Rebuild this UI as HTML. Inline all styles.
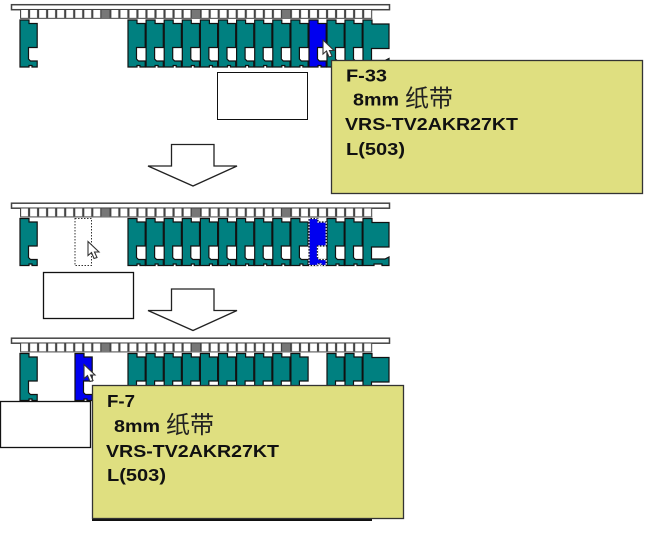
<!DOCTYPE html>
<html>
<head>
<meta charset="utf-8">
<style>
html,body{margin:0;padding:0;background:#fff;width:657px;height:538px;overflow:hidden}
svg{display:block}
.t{font-family:"Liberation Sans","Noto Sans CJK SC",sans-serif;font-size:17.5px;font-weight:bold;fill:#111}
.c{font-family:"Noto Sans CJK SC","WenQuanYi Zen Hei",sans-serif;font-size:24px;font-weight:400;fill:#222}
</style>
</head>
<body>
<svg width="657" height="538" viewBox="0 0 657 538" xmlns="http://www.w3.org/2000/svg">
<defs>
<pattern id="cell" x="20" y="0" width="9.03" height="40" patternUnits="userSpaceOnUse">
<rect x="0" y="0" width="9.03" height="40" fill="#444"/>
<rect x="1.1" y="0" width="6.9" height="40" fill="#fff"/>
</pattern>
<path id="fshape" d="M0 0H9V3.500H17.200V27.500H8.500V39L10.500 41H17.200V47H12V45.500H9V47H0Z"/>
<path id="wshape" d="M0 0H9V4H26V28.500H8.500V40.500H22L26 38.500V47H19V45.500H11V47H0Z"/>
<g id="f"><use href="#fshape" fill="#008080" stroke="#111" stroke-width="1.200"/></g>
<g id="b"><use href="#fshape" fill="#0000f0" stroke="#111" stroke-width="1.200"/></g>
<g id="w"><use href="#wshape" fill="#008080" stroke="#111" stroke-width="1.200"/></g>
<g id="rail">
<rect x="11.500" y="4.700" width="378" height="5" fill="#fff" stroke="#444" stroke-width="1.500"/>
<rect x="20" y="10" width="352.200" height="8.600" fill="url(#cell)"/>
<rect x="20" y="17.800" width="352.200" height="1.200" fill="#666"/>
<rect x="101.500" y="10" width="8" height="8.600" fill="#777"/>
<rect x="191.800" y="10" width="8" height="8.600" fill="#777"/>
<rect x="282.100" y="10" width="8" height="8.600" fill="#777"/>
</g>
<g id="dense">
<use href="#f" x="128" y="20"/><use href="#f" x="146.100" y="20"/><use href="#f" x="164.200" y="20"/>
<use href="#f" x="182.300" y="20"/><use href="#f" x="200.400" y="20"/><use href="#f" x="218.500" y="20"/>
<use href="#f" x="236.600" y="20"/><use href="#f" x="254.700" y="20"/><use href="#f" x="272.800" y="20"/>
<use href="#f" x="290.900" y="20"/>
<use href="#f" x="327" y="20"/><use href="#f" x="345" y="20"/><use href="#w" x="363" y="20"/>
</g>
<path id="arrow" d="M171.500 144.500H214V166H237L193 186L148 166H171.500Z" fill="#fff" stroke="#222" stroke-width="1.300"/>
<path id="cur" d="M0 0V14L3.500 11L6 17L9 16L6.500 10.500H11Z" fill="#fff" stroke="#333" stroke-width="1.100"/>
</defs>

<!-- strip 1 -->
<use href="#rail"/>
<use href="#f" x="20" y="20"/>
<use href="#dense"/>
<use href="#b" x="309" y="20"/>
<use href="#cur" x="323" y="40"/>
<rect x="217.500" y="72.500" width="90" height="47" fill="#fff" stroke="#111"/>
<use href="#arrow"/>

<!-- tooltip 1 -->
<rect x="331.500" y="60.500" width="311" height="133" fill="#dfdf80" stroke="#333" stroke-width="1.300"/>
<text class="t" x="346" y="81.500" textLength="41" lengthAdjust="spacingAndGlyphs">F-33</text>
<text class="t" x="353" y="105.500" textLength="46" lengthAdjust="spacingAndGlyphs">8mm</text>
<text class="c" x="405" y="106.500">纸带</text>
<text class="t" x="345" y="130" textLength="173" lengthAdjust="spacingAndGlyphs">VRS-TV2AKR27KT</text>
<text class="t" x="346" y="155" textLength="59" lengthAdjust="spacingAndGlyphs">L(503)</text>

<!-- strip 2 -->
<g transform="translate(0,198.500)">
<use href="#rail"/>
<use href="#f" x="20" y="20"/>
<use href="#dense"/>
<use href="#b" x="309" y="20"/>
<use href="#fshape" x="309" y="20" fill="none" stroke="#fff" stroke-width="1.300" stroke-dasharray="1.500 1.500"/>
<rect x="75" y="20" width="16.500" height="47" fill="#fff" stroke="#333" stroke-width="1" stroke-dasharray="1.500 1.500"/>
<use href="#cur" x="88" y="43"/>
</g>
<rect x="43.500" y="272.500" width="90" height="46" fill="#fff" stroke="#111" stroke-width="1.300"/>
<use href="#arrow" y="144.500"/>

<!-- strip 3 -->
<g transform="translate(0,333.500)">
<use href="#rail"/>
<use href="#f" x="20" y="20"/>
<use href="#b" x="75" y="20"/>
<use href="#dense"/>
<use href="#cur" x="84" y="31"/>
</g>
<rect x="0.500" y="401.500" width="90" height="46" fill="#fff" stroke="#111" stroke-width="1.300"/>

<!-- tooltip 2 -->
<rect x="92" y="519" width="280" height="2" fill="#111"/>
<rect x="92.500" y="385.500" width="311" height="133" fill="#dfdf80" stroke="#333" stroke-width="1.300"/>
<text class="t" x="107" y="407" textLength="28" lengthAdjust="spacingAndGlyphs">F-7</text>
<text class="t" x="114" y="432" textLength="46" lengthAdjust="spacingAndGlyphs">8mm</text>
<text class="c" x="166" y="433">纸带</text>
<text class="t" x="106" y="457" textLength="173" lengthAdjust="spacingAndGlyphs">VRS-TV2AKR27KT</text>
<text class="t" x="107" y="481" textLength="59" lengthAdjust="spacingAndGlyphs">L(503)</text>
</svg>
</body>
</html>
